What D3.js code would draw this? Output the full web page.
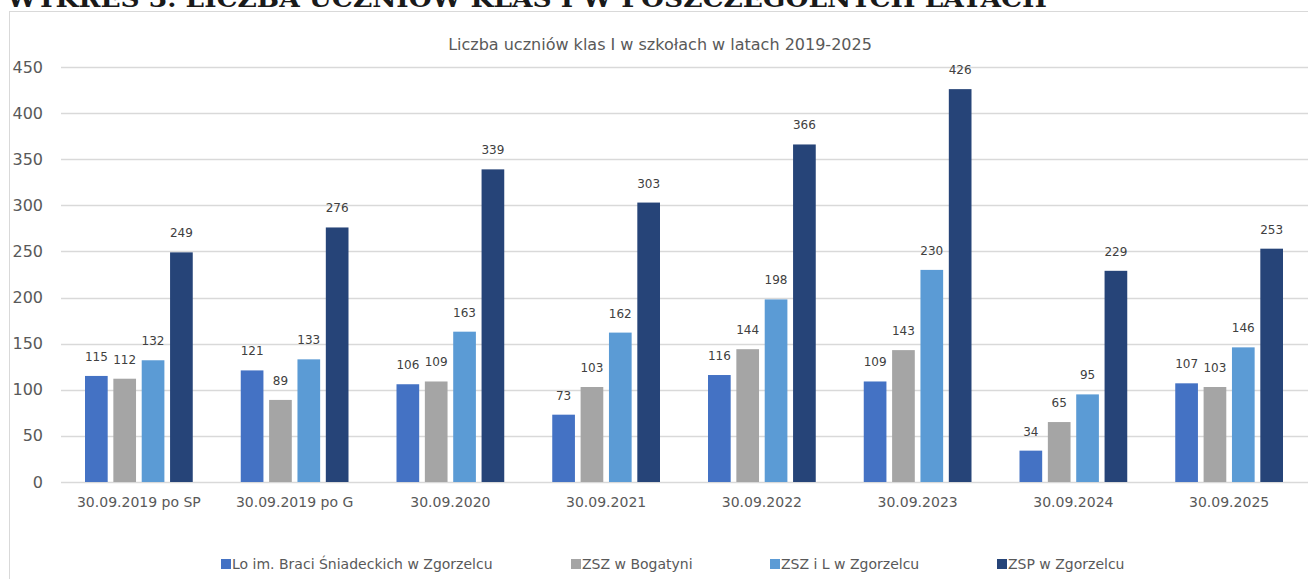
<!DOCTYPE html>
<html><head><meta charset="utf-8">
<script src="https://cdn.jsdelivr.net/npm/d3@7"></script>
<style>body{margin:0;background:#fff;overflow:hidden}svg{display:block}</style>
</head><body>
<svg id="c" width="1308" height="579"></svg>
<script>
const categories = ["30.09.2019 po SP","30.09.2019 po G","30.09.2020","30.09.2021","30.09.2022","30.09.2023","30.09.2024","30.09.2025"];
const seriesNames = ["Lo im. Braci Śniadeckich w Zgorzelcu","ZSZ w Bogatyni","ZSZ i L w Zgorzelcu","ZSP w Zgorzelcu"];
const loValues = [115,121,106,73,116,109,34,107];
const bogatyniaValues = [112,89,109,103,144,143,65,103];
const zszlValues = [132,133,163,162,198,230,95,146];
const zspValues = [249,276,339,303,366,426,229,253];
const yTicks = [0,50,100,150,200,250,300,350,400,450];
const colors = ["#4472c4","#a5a5a5","#5b9bd5","#264478"];
const seriesValues = [loValues,bogatyniaValues,zszlValues,zspValues];

const svg = d3.select("#c");
const font = "'DejaVu Sans', sans-serif";
const txt = "#595959";

// top cut-off heading
svg.append("text").attr("x",7).attr("y",7)
  .attr("font-family","'DejaVu Serif', serif").attr("font-weight","bold")
  .attr("font-size",24).attr("fill","#1a1a1a")
  .attr("textLength",1040).attr("lengthAdjust","spacingAndGlyphs")
  .text("WYKRES 3. LICZBA UCZNIÓW KLAS I W POSZCZEGÓLNYCH LATACH");

// frame
svg.append("rect").attr("x",9.5).attr("y",11.5).attr("width",1400).attr("height",700)
  .attr("fill","none").attr("stroke","#d9d9d9").attr("stroke-width",1);

const x0 = d3.scaleBand().domain(categories).range([61,1307]).paddingInner(0).paddingOuter(0);
const y = d3.scaleLinear().domain([0,450]).range([482,67]);
const x1 = d3.scaleBand().domain(d3.range(4)).range([24, x0.bandwidth()-24]).paddingInner(0.2);

// gridlines
svg.append("g").selectAll("line").data(yTicks).join("line")
  .attr("x1",61).attr("x2",1308)
  .attr("y1",d=>Math.round(y(d))+0.5).attr("y2",d=>Math.round(y(d))+0.5)
  .attr("stroke","#d9d9d9").attr("stroke-width",1.3);

// y tick labels
svg.append("g").selectAll("text").data(yTicks).join("text")
  .attr("x",43).attr("y",d=>y(d)).attr("dy","0.35em")
  .attr("text-anchor","end").attr("font-family",font).attr("font-size",16).attr("fill",txt)
  .text(d=>d);

// chart title
svg.append("text").attr("x",660).attr("y",44).attr("dy","0.35em").attr("text-anchor","middle")
  .attr("font-family",font).attr("font-size",16).attr("fill",txt)
  .text("Liczba uczniów klas I w szkołach w latach 2019-2025");

// bars
const groups = svg.append("g").selectAll("g").data(categories).join("g")
  .attr("transform",d=>`translate(${x0(d)},0)`);
groups.each(function(cat,ci){
  const g = d3.select(this);
  const vals = seriesValues.map((s,si)=>({si, v:s[ci]}));
  g.selectAll("rect").data(vals).join("rect")
    .attr("x",d=>x1(d.si)).attr("width",x1.bandwidth())
    .attr("y",d=>y(d.v)).attr("height",d=>y(0)-y(d.v))
    .attr("fill",d=>colors[d.si]);
  g.selectAll("text").data(vals).join("text")
    .attr("x",d=>x1(d.si)+x1.bandwidth()/2).attr("y",d=>y(d.v)-15)
    .attr("text-anchor","middle").attr("font-family",font).attr("font-size",12).attr("fill","#404040")
    .text(d=>d.v);
});

// x labels
svg.append("g").selectAll("text").data(categories).join("text")
  .attr("x",d=>x0(d)+x0.bandwidth()/2).attr("y",502).attr("dy","0.35em")
  .attr("text-anchor","middle").attr("font-family",font).attr("font-size",14).attr("fill",txt)
  .text(d=>d);

// legend
const legX = [221,571,770,997];
const leg = svg.append("g").selectAll("g").data(seriesNames).join("g")
  .attr("transform",(d,i)=>`translate(${legX[i]},564)`);
leg.append("rect").attr("x",0).attr("y",-5).attr("width",10).attr("height",10).attr("fill",(d,i)=>colors[i]);
leg.append("text").attr("x",11).attr("y",0).attr("dy","0.35em")
  .attr("font-family",font).attr("font-size",14).attr("fill",txt).text(d=>d);
</script>
</body></html>
